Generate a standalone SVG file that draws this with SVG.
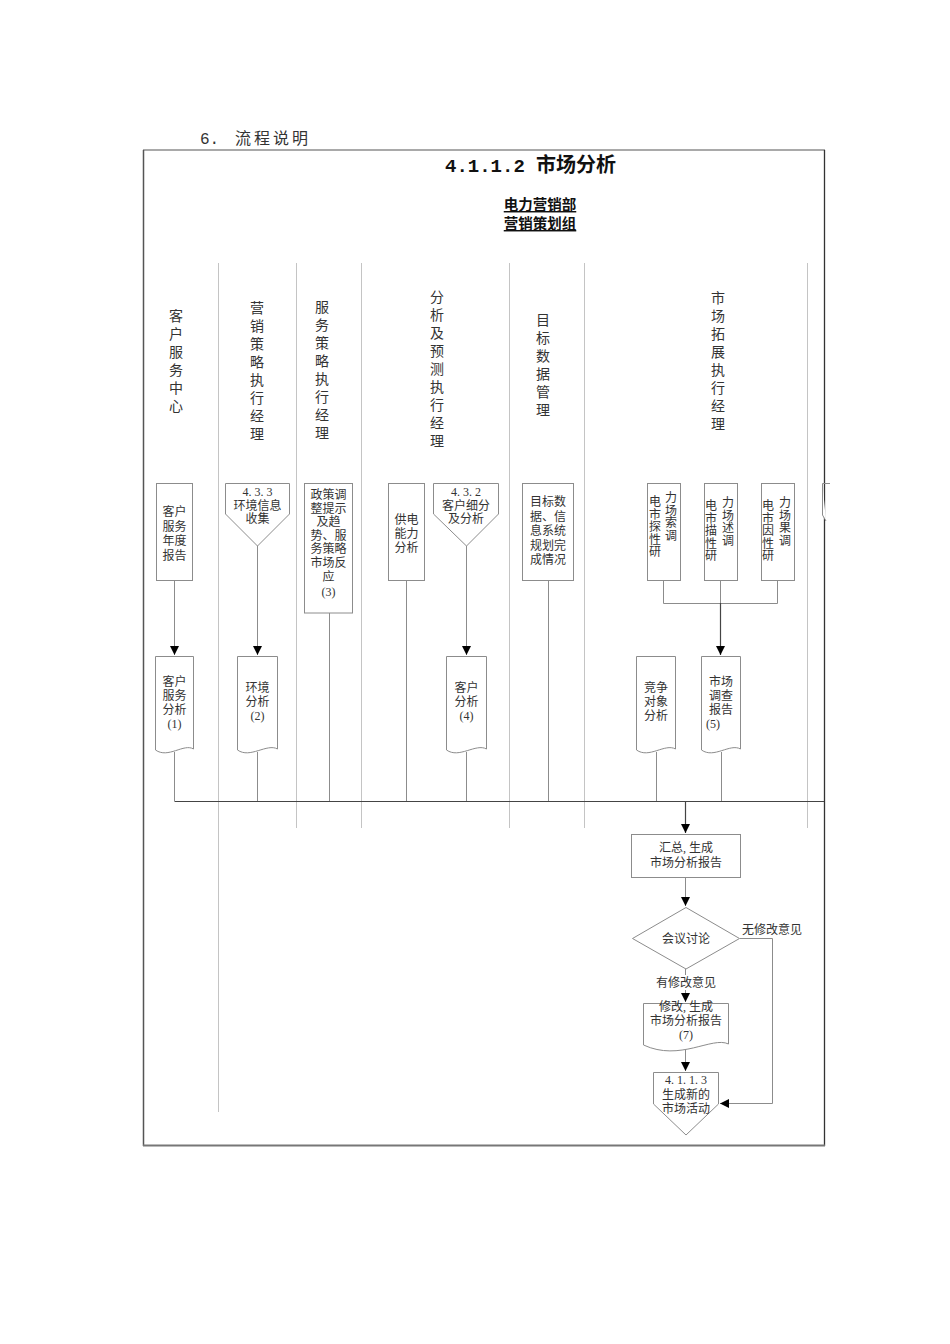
<svg xmlns="http://www.w3.org/2000/svg" width="950" height="1344" viewBox="0 0 950 1344">
<defs>
<marker id="arr" markerWidth="10" markerHeight="10" refX="9" refY="5" orient="auto" markerUnits="userSpaceOnUse">
<path d="M0,0.5 L9,5 L0,9.5 Z" fill="#000"/>
</marker>
<style>
.sep{stroke:#c4c4c4;stroke-width:1;fill:none}
.box{fill:#fff;stroke:#8c8c8c;stroke-width:1}
.ln{stroke:#8c8c8c;stroke-width:1;fill:none}
.dk{stroke:#444;stroke-width:1.2;fill:none}
.lane{font-family:"Noto Sans CJK SC","Noto Sans",sans-serif;font-size:14px;font-weight:normal;fill:#333;text-anchor:middle}
.nt{font-family:"Liberation Serif","Noto Sans CJK SC",serif;font-size:12px;fill:#333;text-anchor:middle}
.vt{font-family:"Liberation Serif","Noto Sans CJK SC",serif;font-size:12px;fill:#333;text-anchor:middle}
</style>
</defs>
<rect width="950" height="1344" fill="#fff"/>
<text x="200" y="144" font-family="Liberation Mono,'Noto Sans CJK SC',monospace" font-size="16" fill="#333">6.</text>
<text x="235" y="144" font-family="'Noto Sans CJK SC',sans-serif" font-size="16" font-weight="normal" letter-spacing="3" fill="#333">流程说明</text>
<g id="frame">
<line x1="143.5" y1="150" x2="143.5" y2="1146" stroke="#555" stroke-width="1.5"/>
<line x1="143" y1="150" x2="825" y2="150" stroke="#555" stroke-width="1.2"/>
<line x1="824.5" y1="150" x2="824.5" y2="1146" stroke="#333" stroke-width="1.3"/>
<line x1="143" y1="1145.5" x2="825" y2="1145.5" stroke="#777" stroke-width="2.2"/>
</g>
<g id="title">
<text x="445" y="172" font-family="Liberation Mono,monospace" font-size="19" font-weight="bold" fill="#111">4.1.1.2</text>
<text x="536" y="172" font-family="'Noto Sans CJK SC',sans-serif" font-size="20" font-weight="bold" fill="#111">市场分析</text>
<text x="540" y="210" font-family="'Noto Sans CJK SC',sans-serif" font-size="14.5" font-weight="bold" fill="#111" text-anchor="middle" text-decoration="underline">电力营销部</text>
<text x="540" y="229" font-family="'Noto Sans CJK SC',sans-serif" font-size="14.5" font-weight="bold" fill="#111" text-anchor="middle" text-decoration="underline">营销策划组</text>
</g>
<g id="lanes">
<line class="sep" x1="218.5" y1="263" x2="218.5" y2="1112"/>
<line class="sep" x1="296.5" y1="263" x2="296.5" y2="828"/>
<line class="sep" x1="361.5" y1="263" x2="361.5" y2="828"/>
<line class="sep" x1="509.5" y1="263" x2="509.5" y2="828"/>
<line class="sep" x1="584.5" y1="263" x2="584.5" y2="828"/>
<line class="sep" x1="807.5" y1="263" x2="807.5" y2="828"/>
<text class="lane"><tspan x="176" y="321">客</tspan><tspan x="176" dy="18">户</tspan><tspan x="176" dy="18">服</tspan><tspan x="176" dy="18">务</tspan><tspan x="176" dy="18">中</tspan><tspan x="176" dy="18">心</tspan></text>
<text class="lane"><tspan x="257" y="313">营</tspan><tspan x="257" dy="18">销</tspan><tspan x="257" dy="18">策</tspan><tspan x="257" dy="18">略</tspan><tspan x="257" dy="18">执</tspan><tspan x="257" dy="18">行</tspan><tspan x="257" dy="18">经</tspan><tspan x="257" dy="18">理</tspan></text>
<text class="lane"><tspan x="322" y="312">服</tspan><tspan x="322" dy="18">务</tspan><tspan x="322" dy="18">策</tspan><tspan x="322" dy="18">略</tspan><tspan x="322" dy="18">执</tspan><tspan x="322" dy="18">行</tspan><tspan x="322" dy="18">经</tspan><tspan x="322" dy="18">理</tspan></text>
<text class="lane"><tspan x="437" y="302">分</tspan><tspan x="437" dy="18">析</tspan><tspan x="437" dy="18">及</tspan><tspan x="437" dy="18">预</tspan><tspan x="437" dy="18">测</tspan><tspan x="437" dy="18">执</tspan><tspan x="437" dy="18">行</tspan><tspan x="437" dy="18">经</tspan><tspan x="437" dy="18">理</tspan></text>
<text class="lane"><tspan x="543" y="325">目</tspan><tspan x="543" dy="18">标</tspan><tspan x="543" dy="18">数</tspan><tspan x="543" dy="18">据</tspan><tspan x="543" dy="18">管</tspan><tspan x="543" dy="18">理</tspan></text>
<text class="lane"><tspan x="718" y="303">市</tspan><tspan x="718" dy="18">场</tspan><tspan x="718" dy="18">拓</tspan><tspan x="718" dy="18">展</tspan><tspan x="718" dy="18">执</tspan><tspan x="718" dy="18">行</tspan><tspan x="718" dy="18">经</tspan><tspan x="718" dy="18">理</tspan></text>
</g>
<g id="connectors">
<line class="ln" x1="174.5" y1="580" x2="174.5" y2="655" marker-end="url(#arr)"/>
<line class="ln" x1="257.5" y1="546" x2="257.5" y2="655" marker-end="url(#arr)"/>
<line class="ln" x1="329.5" y1="613" x2="329.5" y2="801"/>
<line class="ln" x1="406.5" y1="580" x2="406.5" y2="801"/>
<line class="ln" x1="466.5" y1="546" x2="466.5" y2="655" marker-end="url(#arr)"/>
<line class="ln" x1="548.5" y1="580" x2="548.5" y2="801"/>
<polyline class="ln" points="663.5,580 663.5,603.5 777.5,603.5 777.5,580"/>
<line class="ln" x1="720.5" y1="580" x2="720.5" y2="603"/>
<line class="dk" x1="720.5" y1="603" x2="720.5" y2="655" marker-end="url(#arr)"/>
<line class="ln" x1="174.5" y1="752" x2="174.5" y2="801"/>
<line class="ln" x1="257.5" y1="752" x2="257.5" y2="801"/>
<line class="ln" x1="466.5" y1="752" x2="466.5" y2="801"/>
<line class="ln" x1="656.5" y1="752" x2="656.5" y2="801"/>
<line class="ln" x1="721.5" y1="752" x2="721.5" y2="801"/>
<line class="dk" x1="174.5" y1="801.5" x2="824" y2="801.5"/>
<line class="dk" x1="685.5" y1="801" x2="685.5" y2="833" marker-end="url(#arr)"/>
<line class="ln" x1="685.5" y1="878" x2="685.5" y2="906" marker-end="url(#arr)"/>
<line class="ln" x1="685.5" y1="969" x2="685.5" y2="1002" marker-end="url(#arr)"/>
<line class="ln" x1="685.5" y1="1050" x2="685.5" y2="1071" marker-end="url(#arr)"/>
<polyline class="ln" points="740,938.5 772.5,938.5 772.5,1103.5 720,1103.5" marker-end="url(#arr)"/>
<rect x="652" y="975" width="68" height="15" fill="#fff"/>
<text x="686" y="987" font-family="'Liberation Serif','Noto Sans CJK SC',serif" font-size="12" fill="#333" text-anchor="middle">有修改意见</text>
<text x="742" y="934" font-family="'Liberation Serif','Noto Sans CJK SC',serif" font-size="12" fill="#333">无修改意见</text>
</g>
<g id="n1"><rect class="box" x="156.5" y="483.5" width="36" height="97"/>
<text class="nt"><tspan x="174.5" y="516">客户</tspan><tspan x="174.5" dy="14.5">服务</tspan><tspan x="174.5" dy="14.5">年度</tspan><tspan x="174.5" dy="14.5">报告</tspan></text></g>
<g id="n2"><polygon class="box" points="225.5,483.5 289.5,483.5 289.5,514 257.5,546 225.5,514"/>
<text class="nt"><tspan x="257.5" y="496">4. 3. 3</tspan><tspan x="257.5" dy="13.5">环境信息</tspan><tspan x="257.5" dy="13.5">收集</tspan></text></g>
<g id="n3"><rect class="box" x="304.5" y="483.5" width="48" height="129.5"/>
<text class="nt"><tspan x="328.5" y="499">政策调</tspan><tspan x="328.5" dy="13.6">整提示</tspan><tspan x="328.5" dy="13.6">及趋</tspan><tspan x="328.5" dy="13.6">势、服</tspan><tspan x="328.5" dy="13.6">务策略</tspan><tspan x="328.5" dy="13.6">市场反</tspan><tspan x="328.5" dy="13.6">应</tspan><tspan x="328.5" dy="15">(3)</tspan></text></g>
<g id="n4"><rect class="box" x="388.5" y="483.5" width="36" height="97"/>
<text class="nt"><tspan x="406.5" y="524">供电</tspan><tspan x="406.5" dy="14">能力</tspan><tspan x="406.5" dy="14">分析</tspan></text></g>
<g id="n5"><polygon class="box" points="433.5,483.5 498.5,483.5 498.5,514 466.5,546 433.5,514"/>
<text class="nt"><tspan x="466" y="496">4. 3. 2</tspan><tspan x="466" dy="13.5">客户细分</tspan><tspan x="466" dy="13.5">及分析</tspan></text></g>
<g id="n6"><rect class="box" x="522.5" y="483.5" width="51" height="97"/>
<text class="nt"><tspan x="548" y="506">目标数</tspan><tspan x="548" dy="14.5">据、信</tspan><tspan x="548" dy="14.5">息系统</tspan><tspan x="548" dy="14.5">规划完</tspan><tspan x="548" dy="14.5">成情况</tspan></text></g>
<g id="n7"><rect class="box" x="647.5" y="483.5" width="33" height="97"/>
<text class="vt"><tspan x="655" y="506">电</tspan><tspan x="655" dy="12.5">市</tspan><tspan x="655" dy="12.5">探</tspan><tspan x="655" dy="12.5">性</tspan><tspan x="655" dy="12.5">研</tspan></text>
<text class="vt"><tspan x="671" y="502">力</tspan><tspan x="671" dy="12.5">场</tspan><tspan x="671" dy="12.5">索</tspan><tspan x="671" dy="12.5">调</tspan></text></g>
<g id="n8"><rect class="box" x="704.5" y="483.5" width="33" height="97"/>
<text class="vt"><tspan x="711" y="510">电</tspan><tspan x="711" dy="12.5">市</tspan><tspan x="711" dy="12.5">描</tspan><tspan x="711" dy="12.5">性</tspan><tspan x="711" dy="12.5">研</tspan></text>
<text class="vt"><tspan x="728" y="507">力</tspan><tspan x="728" dy="12.5">场</tspan><tspan x="728" dy="12.5">述</tspan><tspan x="728" dy="12.5">调</tspan></text></g>
<g id="n9"><rect class="box" x="761.5" y="483.5" width="33" height="97"/>
<text class="vt"><tspan x="768" y="510">电</tspan><tspan x="768" dy="12.5">市</tspan><tspan x="768" dy="12.5">因</tspan><tspan x="768" dy="12.5">性</tspan><tspan x="768" dy="12.5">研</tspan></text>
<text class="vt"><tspan x="785" y="507">力</tspan><tspan x="785" dy="12.5">场</tspan><tspan x="785" dy="12.5">果</tspan><tspan x="785" dy="12.5">调</tspan></text></g>
<g id="n10"><path class="box" d="M822.5,483.5 H830 M822.5,483.5 V515 L826,521"/></g>
<g id="d1"><path class="box" d="M155.5,656.5 H193.5 V749 C184,743 168,759 155.5,750 Z"/>
<text class="nt"><tspan x="174.5" y="686">客户</tspan><tspan x="174.5" dy="14">服务</tspan><tspan x="174.5" dy="14">分析</tspan><tspan x="174.5" dy="14">(1)</tspan></text></g>
<g id="d2"><path class="box" d="M237.5,656.5 H277.5 V749 C267,743 250,759 237.5,750 Z"/>
<text class="nt"><tspan x="257.5" y="692">环境</tspan><tspan x="257.5" dy="14">分析</tspan><tspan x="257.5" dy="14">(2)</tspan></text></g>
<g id="d3"><path class="box" d="M446.5,656.5 H486.5 V749 C476,743 459,759 446.5,750 Z"/>
<text class="nt"><tspan x="466.5" y="692">客户</tspan><tspan x="466.5" dy="14">分析</tspan><tspan x="466.5" dy="14">(4)</tspan></text></g>
<g id="d4"><path class="box" d="M636.5,656.5 H675.5 V749 C665,743 649,759 636.5,750 Z"/>
<text class="nt"><tspan x="656" y="692">竞争</tspan><tspan x="656" dy="14">对象</tspan><tspan x="656" dy="14">分析</tspan></text></g>
<g id="d5"><path class="box" d="M701.5,656.5 H740.5 V749 C730,743 714,759 701.5,750 Z"/>
<text class="nt"><tspan x="721" y="686">市场</tspan><tspan x="721" dy="14">调查</tspan><tspan x="721" dy="14">报告</tspan><tspan x="713" dy="14">(5)</tspan></text></g>
<g id="s1"><rect class="box" x="631.5" y="834.5" width="109" height="43"/>
<text class="nt"><tspan x="686" y="852">汇总, 生成</tspan><tspan x="686" dy="14.5">市场分析报告</tspan></text></g>
<g id="s2"><polygon class="box" points="686,907.5 739.5,938.5 686,969 632.5,938.5"/>
<text class="nt" x="686" y="943">会议讨论</text></g>
<g id="s3"><path class="box" d="M643.5,1003.5 H728.5 V1044 C712,1036 680,1062 643.5,1045 Z"/>
<text class="nt"><tspan x="686" y="1011">修改, 生成</tspan><tspan x="686" dy="14">市场分析报告</tspan><tspan x="686" dy="14">(7)</tspan></text></g>
<g id="s4"><polygon class="box" points="653.5,1072.5 718.5,1072.5 718.5,1104 686,1135 653.5,1104"/>
<text class="nt"><tspan x="686" y="1084">4. 1. 1. 3</tspan><tspan x="686" dy="14.5">生成新的</tspan><tspan x="686" dy="14.5">市场活动</tspan></text></g>
</svg>
